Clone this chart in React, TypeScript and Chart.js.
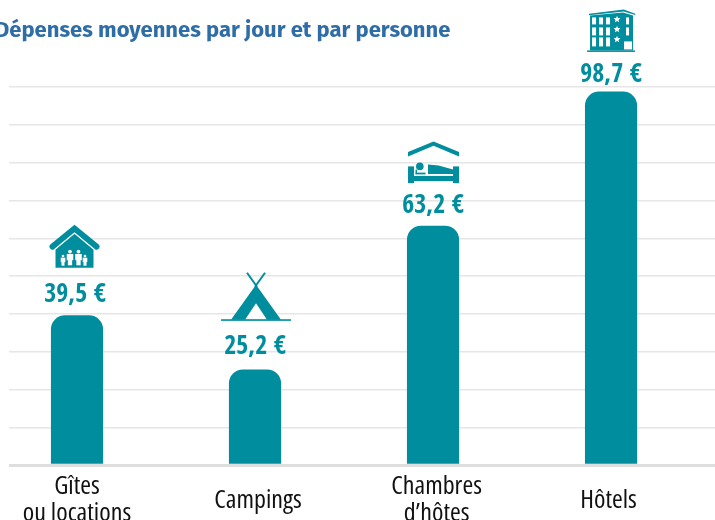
import React, { useEffect, useRef } from "react";
import { Chart, registerables } from "chart.js";

Chart.register(...registerables);

const categories: string[][] = [["Gîtes", "ou locations"], ["Campings"], ["Chambres", "d’hôtes"], ["Hôtels"]];
const depenses: number[] = [39.5, 25.2, 63.2, 98.7];
const valueLabels: string[] = ["39,5 €", "25,2 €", "63,2 €", "98,7 €"];
const titleText = "Dépenses moyennes par jour et par personne";

const TEAL = "#008D9D";

type C = CanvasRenderingContext2D;

function poly(ctx: C, pts: number[][]) {
  ctx.beginPath();
  pts.forEach((p, i) => (i ? ctx.lineTo(p[0], p[1]) : ctx.moveTo(p[0], p[1])));
  ctx.closePath();
  ctx.fill();
}

function person(ctx: C, x: number, top: number, s: number) {
  ctx.beginPath();
  ctx.arc(x, top + 1.3 * s, 1.3 * s, 0, Math.PI * 2);
  ctx.fill();
  ctx.fillRect(x - 2.3 * s, top + 3 * s, 4.6 * s, 4.4 * s);
  ctx.fillRect(x - 1.5 * s, top + 7 * s, 3 * s, 4 * s);
}

// Each icon is drawn relative to (cx, by): horizontal centre and bottom of the icon.
function houseIcon(ctx: C, cx: number, by: number) {
  ctx.fillStyle = TEAL;
  ctx.strokeStyle = TEAL;
  ctx.lineWidth = 6;
  ctx.lineCap = "round";
  ctx.lineJoin = "miter";
  ctx.beginPath();
  ctx.moveTo(cx - 22, by - 21);
  ctx.lineTo(cx, by - 39);
  ctx.lineTo(cx + 22, by - 21);
  ctx.stroke();
  poly(ctx, [[cx - 19, by - 20], [cx, by - 36], [cx + 19, by - 20], [cx + 19, by], [cx - 19, by]]);
  ctx.strokeStyle = "#fff";
  ctx.lineWidth = 1.3;
  ctx.lineCap = "butt";
  ctx.beginPath();
  ctx.moveTo(cx - 19.5, by - 18.5);
  ctx.lineTo(cx, by - 34.7);
  ctx.lineTo(cx + 19.5, by - 18.5);
  ctx.stroke();
  ctx.fillStyle = "#fff";
  person(ctx, cx - 4.5, by - 18, 1.42);
  person(ctx, cx + 4, by - 18, 1.42);
  person(ctx, cx - 11.5, by - 13, 1);
  person(ctx, cx + 10.5, by - 13, 1);
}

function tentIcon(ctx: C, cx: number, by: number) {
  ctx.fillStyle = TEAL;
  ctx.strokeStyle = TEAL;
  ctx.lineCap = "butt";
  ctx.lineWidth = 2;
  ctx.beginPath();
  ctx.moveTo(cx - 9, by - 47);
  ctx.lineTo(cx + 1, by - 33);
  ctx.moveTo(cx + 9, by - 47);
  ctx.lineTo(cx - 1, by - 33);
  ctx.stroke();
  poly(ctx, [[cx, by - 35], [cx + 25, by], [cx - 25, by]]);
  ctx.fillStyle = "#fff";
  poly(ctx, [[cx, by - 16.5], [cx + 11, by], [cx - 11, by]]);
  ctx.fillStyle = TEAL;
  ctx.fillRect(cx - 35, by - 0.5, 70, 1.6);
}

function bedIcon(ctx: C, cx: number, by: number) {
  ctx.fillStyle = TEAL;
  poly(ctx, [[cx - 25.5, by - 31], [cx, by - 41.7], [cx + 25.5, by - 31], [cx + 25.5, by - 26.7], [cx, by - 37.3], [cx - 25.5, by - 26.7]]);
  ctx.fillRect(cx - 25.5, by - 16.7, 6, 16.7);
  ctx.fillRect(cx + 19.5, by - 16.7, 6, 16.7);
  ctx.fillRect(cx - 25, by - 7.2, 50, 5.2);
  ctx.beginPath();
  ctx.arc(cx - 13.7, by - 16.7, 3.8, 0, Math.PI * 2);
  ctx.fill();
  ctx.fillRect(cx - 18, by - 10.5, 10, 1.8);
  ctx.fillRect(cx - 18, by - 13.5, 1.5, 4);
  poly(ctx, [[cx - 5.5, by - 18.5], [cx + 5, by - 17.5], [cx + 19.5, by - 13.5], [cx + 19.5, by - 9], [cx - 5.5, by - 9]]);
}

function star(ctx: C, x: number, y: number, r: number) {
  ctx.beginPath();
  for (let i = 0; i < 10; i++) {
    const a = -Math.PI / 2 + (i * Math.PI) / 5;
    const d = i % 2 ? r * 0.45 : r;
    const px = x + Math.cos(a) * d;
    const py = y + Math.sin(a) * d;
    if (i) ctx.lineTo(px, py);
    else ctx.moveTo(px, py);
  }
  ctx.closePath();
  ctx.fill();
}

function hotelIcon(ctx: C, cx: number, by: number) {
  ctx.fillStyle = TEAL;
  poly(ctx, [[cx - 22, by - 37.7], [cx + 12.7, by - 42], [cx + 24.3, by - 37.7], [cx + 24.3, by - 36.5], [cx + 12.7, by - 40], [cx - 22, by - 36.2]]);
  poly(ctx, [[cx - 21, by - 36], [cx + 12, by - 39], [cx + 22, by - 36], [cx + 22, by - 1], [cx - 21, by - 1]]);
  ctx.fillRect(cx - 24, by - 1, 48, 1.5);
  ctx.fillStyle = "#fff";
  [-19, -12, -5].forEach((dx) => {
    ctx.fillRect(cx + dx, by - 34, 4, 7);
    ctx.fillRect(cx + dx, by - 24, 4, 8);
    ctx.fillRect(cx + dx, by - 14, 4, 9);
  });
  star(ctx, cx + 6, by - 32, 3.6);
  star(ctx, cx + 6, by - 22, 3.6);
  star(ctx, cx + 6, by - 12, 3.6);
  ctx.fillRect(cx + 15, by - 34, 3, 7);
  ctx.fillRect(cx + 15, by - 24, 3, 8);
  ctx.fillRect(cx + 13, by - 10, 8, 8);
}

const icons = [houseIcon, tentIcon, bedIcon, hotelIcon];
const textGaps = [22.5, 25, 22, 19.5];
const iconGaps = [25.5, 25, 21, 21];
const iconShifts = [-2.5, 1, 0.5, 0];
const tickShifts = [0, 0.017, 0.02, -0.014];

const annotations = {
  id: "annotations",
  beforeDraw(chart: any) {
    chart.ctx.fontStretch = "extra-condensed";
  },
  afterDatasetsDraw(chart: any) {
    const { ctx } = chart;
    const meta = chart.getDatasetMeta(0);
    ctx.save();
    meta.data.forEach((bar: any, i: number) => {
      const textY = bar.y - textGaps[i];
      ctx.fillStyle = TEAL;
      ctx.font = "bold 26px 'Open Sans Condensed'";
      ctx.textAlign = "center";
      ctx.textBaseline = "middle";
      ctx.fillText(valueLabels[i], bar.x + (i === 0 ? -2 : 0), textY + 2.5);
      icons[i](ctx, bar.x + iconShifts[i], textY - iconGaps[i]);
    });
    ctx.restore();
  },
};

export default function App() {
  const ref = useRef<HTMLCanvasElement>(null);
  useEffect(() => {
    const canvas = ref.current as HTMLCanvasElement;
    const chart = new Chart(canvas, {
      type: "bar",
      data: {
        datasets: [
          {
            data: depenses.map((v, i) => ({ x: i, y: v })),
            backgroundColor: TEAL,
            barThickness: 51.5,
            borderRadius: { topLeft: 14, topRight: 14, bottomLeft: 0, bottomRight: 0 },
            borderSkipped: false,
          },
        ],
      },
      options: {
        animation: false,
        responsive: false,
        layout: { padding: 0 },
        plugins: {
          legend: { display: false },
          tooltip: { enabled: false },
          title: {
            display: true,
            text: titleText,
            align: "start",
            color: "#2E6DA5",
            font: { family: "'Fira Sans', 'Noto Sans', sans-serif", size: 22, weight: "bold", lineHeight: 1.2 },
            padding: { top: 17.8, bottom: 42.8 },
          },
        },
        scales: {
          x: {
            type: "linear",
            offset: false,
            min: -0.382,
            max: 3.584,
            grid: { display: false },
            border: { display: false },
            afterBuildTicks(axis: any) {
              axis.ticks = categories.map((_, i) => ({ value: i + tickShifts[i] }));
            },
            afterFit(axis: any) {
              axis.height = 55;
              axis.paddingLeft = 0;
              axis.paddingRight = 0;
            },
            ticks: {
              autoSkip: false,
              maxRotation: 0,
              crossAlign: "center",
              padding: 14,
              color: "#111",
              font: { family: "'Open Sans'", size: 26, lineHeight: 1.02 },
              callback: (_v: any, idx: number) => categories[idx],
            },
          },
          y: {
            min: 0,
            max: 100,
            border: { display: false },
            afterFit(axis: any) {
              axis.width = 14;
            },
            grid: {
              drawTicks: false,
              color: (c: any) => (c.tick.value === 0 ? "#dedede" : "#e6e6e6"),
              lineWidth: (c: any) => (c.tick.value === 0 ? 3 : 1.4),
            },
            ticks: { display: false, stepSize: 10 },
          },
        },
      } as any,
      plugins: [annotations],
    });
    return () => chart.destroy();
  }, []);
  return (
    <div style={{ position: "fixed", left: -5, top: 0, width: 720, height: 520, overflow: "hidden" }}>
      <canvas ref={ref} width={720} height={520} style={{ display: "block" }} />
    </div>
  );
}
